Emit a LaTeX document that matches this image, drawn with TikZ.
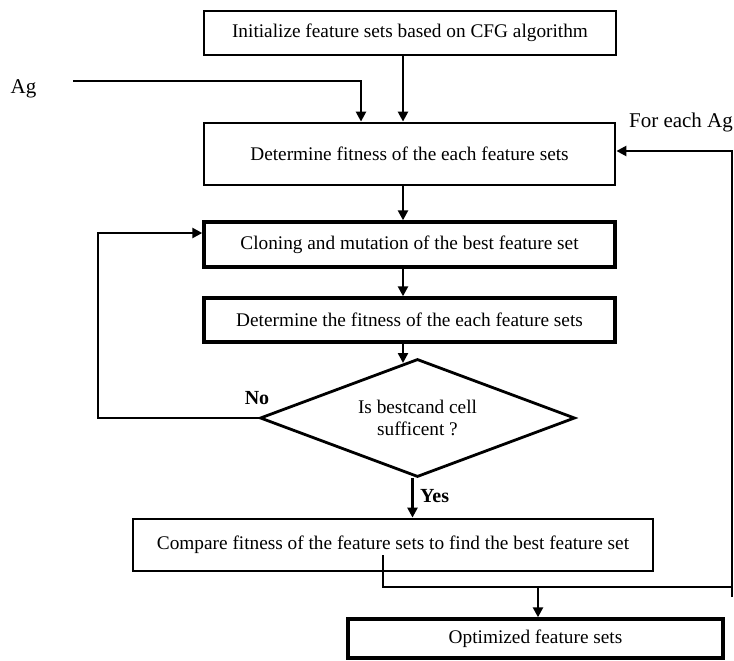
\documentclass[tikz,border=0pt]{standalone}
\usepackage{fontspec}
\setmainfont{Liberation Serif}
\usetikzlibrary{arrows.meta,shapes.geometric}
\tikzset{
  boxstyle/.style={draw, line width=2.8pt, rectangle, inner sep=0pt, align=center,
    font=\fontsize{19.3}{22}\selectfont},
  heavybox/.style={boxstyle, line width=3.4pt},
  decision/.style={draw, line width=2.8pt, diamond, aspect=2.67, inner sep=0pt,
    minimum width=315pt, minimum height=118pt, align=center,
    font=\fontsize{19.3}{22}\selectfont},
  conn/.style={line width=2.4pt},
  arr/.style={conn, -{Triangle[length=10pt,width=10pt]}},
  lbl/.style={font=\fontsize{21}{24}\selectfont, inner sep=0pt},
  yn/.style={font=\fontsize{20}{24}\selectfont\bfseries, inner sep=0pt}
}
\begin{document}
\begin{tikzpicture}[x=1pt,y=-1pt]
\useasboundingbox (0,0) rectangle (734,661);

\node[boxstyle, minimum width=412pt, minimum height=44pt] (b1) at (410,33)
  {Initialize feature sets based on CFG algorithm};
\node[boxstyle, minimum width=411pt, minimum height=62pt] (b2) at (409.5,154)
  {Determine fitness of the each feature sets};
\node[heavybox, minimum width=411pt, minimum height=45pt] (b3) at (409.5,244.5)
  {Cloning and mutation of the best feature set};
\node[heavybox, minimum width=411pt, minimum height=44pt] (b4) at (409.5,320)
  {Determine the fitness of the each feature sets};
\node[decision] (dia) at (417.5,418) {Is bestcand cell\\sufficent ?};
\node[boxstyle, minimum width=520pt, minimum height=52pt] (b5) at (393,545)
  {Compare fitness of the feature sets to find the best feature set};
\node[heavybox, minimum width=375pt, minimum height=39pt] (b6) at (535.5,638.5)
  {Optimized feature sets};

\node[lbl, anchor=base] (ag) at (23.5,93) {Ag};
\node[lbl, anchor=base] (fea) at (681,128) {For each Ag};
\node[yn] (no) at (257,398) {No};
\node[yn, anchor=west] (yes) at (420,496) {Yes};

\coordinate (col) at (403,0);
\coordinate (agcol) at (361,0);
\coordinate (agstart) at (73,81);
\coordinate (diatip) at (403,363);
\coordinate (loopx) at (98,0);
\coordinate (b3in) at ([yshift=11.5pt]b3.west);
\coordinate (c5) at (383,555);
\coordinate (fbh) at (732,587);
\coordinate (fb) at (732,597);
\coordinate (j) at (538,587);

\draw[arr] (agstart) -| (agcol |- b2.north);
\draw[arr] (col |- b1.south) -- (col |- b2.north);
\draw[arr] (col |- b2.south) -- (col |- b3.north);
\draw[arr] (col |- b3.south) -- (col |- b4.north);
\draw[arr] (col |- b4.south) -- (diatip);
\draw[arr] (dia.west) -| (loopx |- b3in) -- (b3in);
\draw[arr] ([xshift=-5pt]dia.south) -- ([xshift=-5pt]dia.south |- b5.north);
\draw[conn] (c5) |- (fbh);
\draw[arr] (fb) |- ([yshift=3pt]b2.east);
\draw[arr] (j) -- (j |- b6.north);
\end{tikzpicture}
\end{document}
